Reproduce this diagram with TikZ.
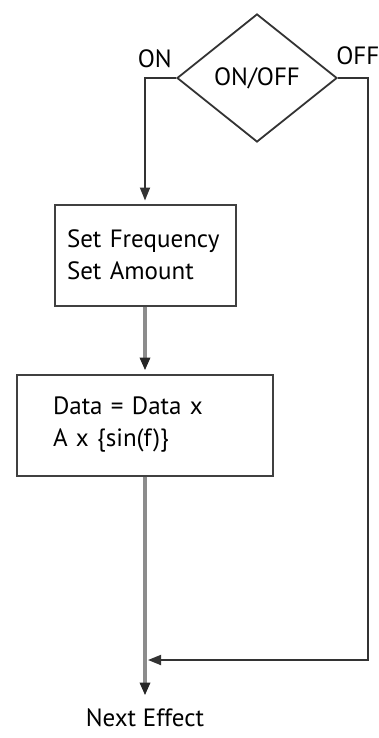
\documentclass[tikz,border=0pt]{standalone}
\usepackage{fontspec}
\setmainfont{PT Sans}
\usetikzlibrary{positioning,shapes.geometric,arrows.meta}

\begin{document}
\begin{tikzpicture}[x=0.5pt, y=0.5pt, font=\fontsize{12.5}{16}\selectfont,
    >={Triangle[length=6.5pt,width=5pt]},
    dec/.style = {draw=black!80, diamond, line width=0.9pt, minimum width=80pt, minimum height=64pt, inner sep=0pt},
    box/.style = {draw=black!75, rectangle, line width=1pt, align=left, minimum height=50.5pt},
    lbl/.style = {inner sep=0pt},
    line/.style = {draw=black!80, line width=0.9pt, shorten >=1.5pt},
    flow/.style = {draw=black!45, line width=1.8pt, shorten >=1.5pt, >={Triangle[length=6.5pt,width=5pt,color=black!85]}}]
    \useasboundingbox (0,0) rectangle (379,-738);
    \node[dec] (1) at (257,-78) {ON/OFF};
    \node[box, text width=78pt, inner xsep=6.25pt] (2) at (145,-255) {Set Frequency\\Set Amount};
    \node[box, text width=92pt, inner xsep=18pt] (3) [below=33.5pt of 2] {Data = Data x\\A x \{sin(f)\}};
    \node[lbl, inner sep=5pt] (4) [below=111pt of 3] {Next Effect};
    \node[lbl] (5) [above left=5pt and 2pt of 1.west] {ON};
    \node[lbl] (6) [above right=6.5pt and -1pt of 1.east] {OFF};
    \coordinate (7) at (368,-660);
    %ON / OFF branches
    \draw[line, ->] (1.west) -| (2.north);
    \draw[flow, ->] (2) -- (3);
    \draw[flow, ->] (3) -- (4);
    \draw[line, ->] (1.east) -| (7) -- (3 |- 7);
\end{tikzpicture}
\end{document}
